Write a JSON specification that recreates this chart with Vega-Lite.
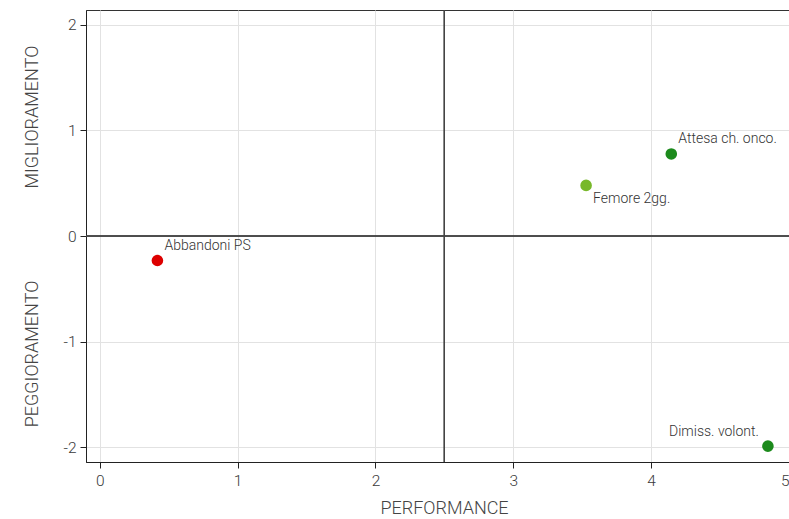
{
  "$schema": "https://vega.github.io/schema/vega-lite/v6.json",
  "width": 703,
  "height": 452,
  "autosize": {"type": "none"},
  "padding": {"left": 86, "top": 10, "right": 0, "bottom": 57},
  "config": {
    "font": "Roboto",
    "view": {"stroke": "#333", "strokeWidth": 1},
    "axis": {
      "grid": true,
      "domainColor": "#222",
      "tickColor": "#222",
      "gridColor": "#e2e2e2",
      "gridWidth": 1,
      "labelFont": "Roboto",
      "labelFontSize": 15.5,
      "labelFontWeight": 300,
      "labelColor": "#3a3a3a",
      "titleFont": "Roboto",
      "titleFontSize": 18,
      "titleFontWeight": 300,
      "titleColor": "#444",
      "tickSize": 6,
      "labelExpr": "'' + datum.value"
    }
  },
  "data": {
    "values": [
      {"indicatore": "Abbandoni PS", "performance": 0.418, "variazione": -0.232, "esito": "critico"},
      {"indicatore": "Femore 2gg.", "performance": 3.528, "variazione": 0.479, "esito": "buono"},
      {"indicatore": "Attesa ch. onco.", "performance": 4.146, "variazione": 0.777, "esito": "ottimo"},
      {"indicatore": "Dimiss. volont.", "performance": 4.847, "variazione": -1.99, "esito": "ottimo"}
    ]
  },
  "layer": [
    {
      "mark": {"type": "rule", "color": "#444", "strokeWidth": 1.2},
      "encoding": {"x": {"datum": 2.5, "type": "quantitative"}}
    },
    {
      "mark": {"type": "rule", "color": "#444", "strokeWidth": 1.2},
      "encoding": {"y": {"datum": 0, "type": "quantitative"}}
    },
    {
      "mark": {"type": "point", "filled": true, "size": 135, "opacity": 1},
      "encoding": {
        "x": {
          "field": "performance", "type": "quantitative",
          "scale": {"domain": [-0.1, 5], "nice": false, "zero": false},
          "axis": {"title": "PERFORMANCE", "grid": true, "values": [0, 1, 2, 3, 4, 5], "labelPadding": 5, "titlePadding": 11, "titleX": 358}
        },
        "y": {
          "field": "variazione", "type": "quantitative",
          "scale": {"domain": [-2.14, 2.14], "nice": false, "zero": false},
          "axis": {"title": "PEGGIORAMENTO\u00a0\u00a0\u00a0\u00a0\u00a0\u00a0\u00a0\u00a0\u00a0\u00a0\u00a0\u00a0\u00a0\u00a0\u00a0\u00a0\u00a0\u00a0\u00a0\u00a0\u00a0MIGLIORAMENTO", "grid": true, "values": [-2, -1, 0, 1, 2], "labelPadding": 4, "titlePadding": 21}
        },
        "color": {
          "field": "esito", "type": "nominal",
          "scale": {"domain": ["critico", "buono", "ottimo"], "range": ["#dd0000", "#78b82a", "#1c8a1c"]},
          "legend": null
        }
      }
    },
    {
      "transform": [{"filter": "datum.indicatore == 'Abbandoni PS' || datum.indicatore == 'Attesa ch. onco.'"}],
      "mark": {"type": "text", "align": "left", "baseline": "middle", "dx": 7, "dy": -15, "fontSize": 14, "fontWeight": 300, "color": "#333"},
      "encoding": {
        "x": {"field": "performance", "type": "quantitative", "title": "PERFORMANCE"},
        "y": {"field": "variazione", "type": "quantitative", "title": "PEGGIORAMENTO\u00a0\u00a0\u00a0\u00a0\u00a0\u00a0\u00a0\u00a0\u00a0\u00a0\u00a0\u00a0\u00a0\u00a0\u00a0\u00a0\u00a0\u00a0\u00a0\u00a0\u00a0MIGLIORAMENTO"},
        "text": {"field": "indicatore"}
      }
    },
    {
      "transform": [{"filter": "datum.indicatore == 'Femore 2gg.'"}],
      "mark": {"type": "text", "align": "left", "baseline": "middle", "dx": 7, "dy": 14, "fontSize": 14, "fontWeight": 300, "color": "#333"},
      "encoding": {
        "x": {"field": "performance", "type": "quantitative", "title": "PERFORMANCE"},
        "y": {"field": "variazione", "type": "quantitative", "title": "PEGGIORAMENTO\u00a0\u00a0\u00a0\u00a0\u00a0\u00a0\u00a0\u00a0\u00a0\u00a0\u00a0\u00a0\u00a0\u00a0\u00a0\u00a0\u00a0\u00a0\u00a0\u00a0\u00a0MIGLIORAMENTO"},
        "text": {"field": "indicatore"}
      }
    },
    {
      "transform": [{"filter": "datum.indicatore == 'Dimiss. volont.'"}],
      "mark": {"type": "text", "align": "right", "baseline": "middle", "dx": -9, "dy": -14, "fontSize": 14, "fontWeight": 300, "color": "#333"},
      "encoding": {
        "x": {"field": "performance", "type": "quantitative", "title": "PERFORMANCE"},
        "y": {"field": "variazione", "type": "quantitative", "title": "PEGGIORAMENTO\u00a0\u00a0\u00a0\u00a0\u00a0\u00a0\u00a0\u00a0\u00a0\u00a0\u00a0\u00a0\u00a0\u00a0\u00a0\u00a0\u00a0\u00a0\u00a0\u00a0\u00a0MIGLIORAMENTO"},
        "text": {"field": "indicatore"}
      }
    }
  ]
}
